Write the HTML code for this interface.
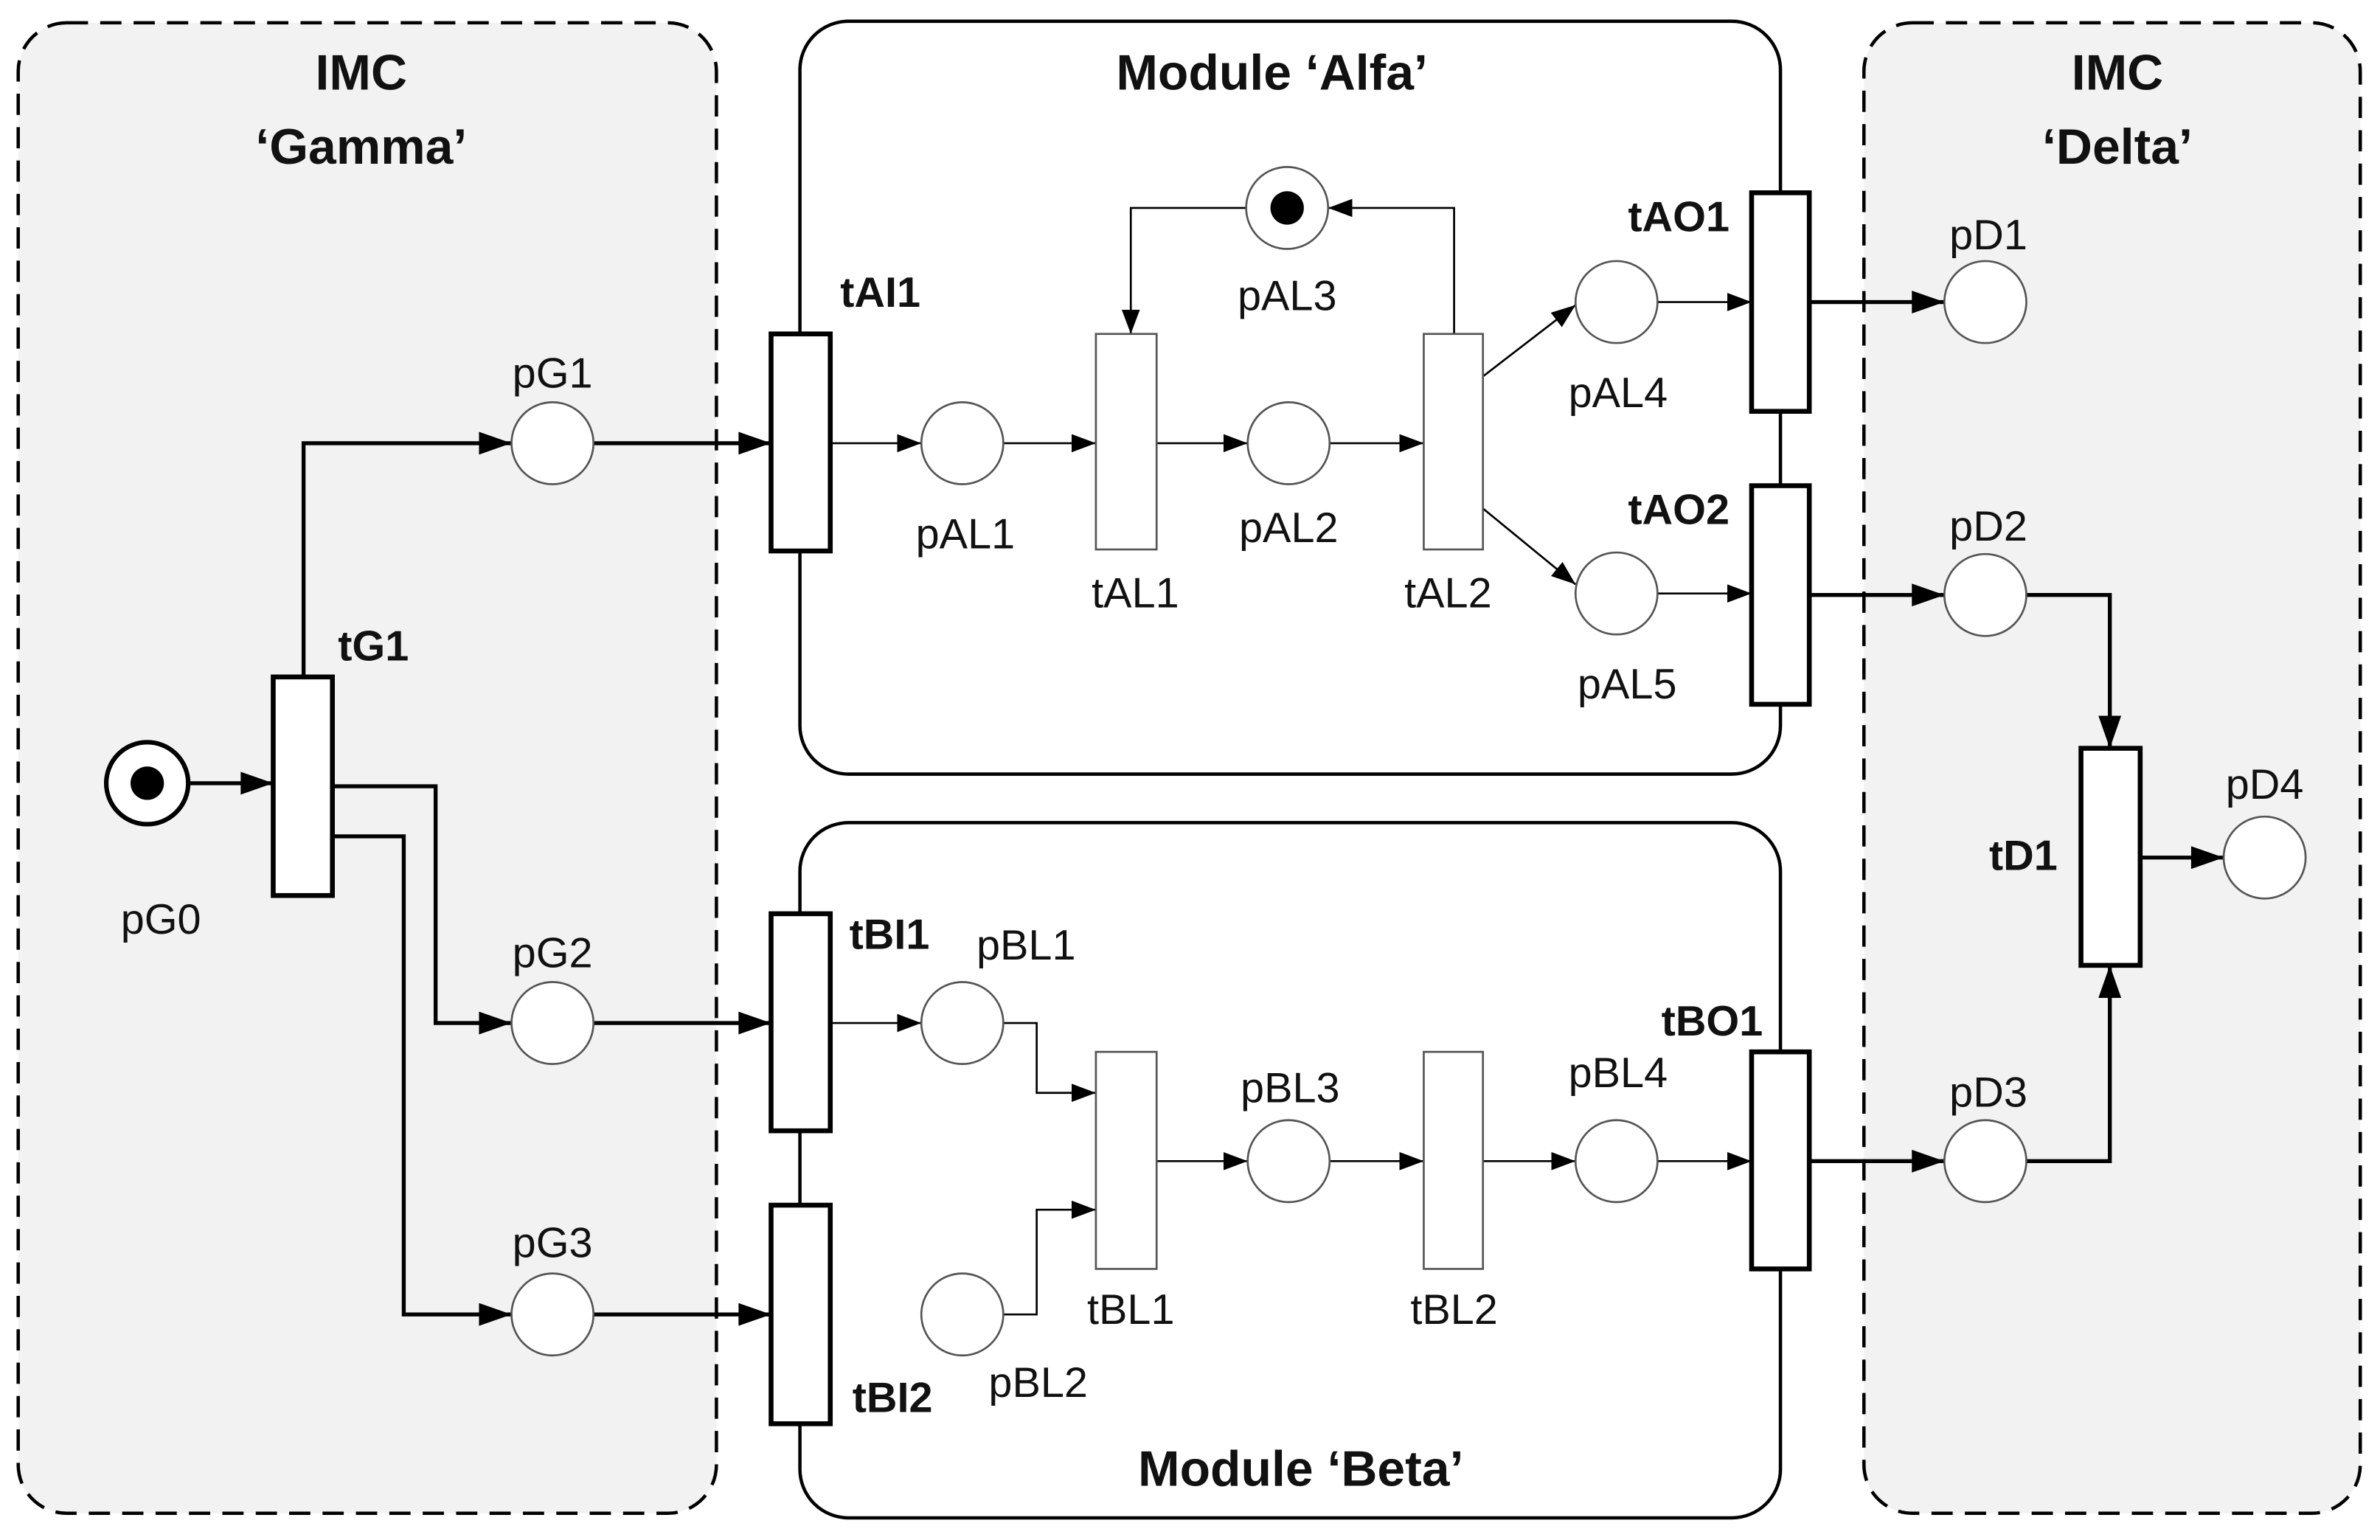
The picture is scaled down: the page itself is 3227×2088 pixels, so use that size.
<!DOCTYPE html>
<html><head><meta charset="utf-8"><style>
html,body{margin:0;padding:0;background:#fff;}
svg{display:block;}
text{font-family:"Liberation Sans",Arial,sans-serif;fill:#111;}
.l{font-size:28px;text-anchor:middle;dominant-baseline:central;}
.b{font-size:28px;font-weight:bold;text-anchor:middle;dominant-baseline:central;}
.t{font-size:33px;font-weight:bold;text-anchor:middle;dominant-baseline:central;}
.a{stroke:#000;stroke-width:2.6;fill:none;}
.th{stroke:#000;stroke-width:1.3;fill:none;}
.p{stroke:#555;stroke-width:1.3;fill:#fff;}
</style></head><body>
<svg width="3227" height="2088" viewBox="0 0 1568 1014.6" preserveAspectRatio="none" xmlns="http://www.w3.org/2000/svg">
<defs>
<marker id="A" viewBox="0 0 20 14" refX="20" refY="7" markerWidth="22" markerHeight="15" orient="auto" markerUnits="userSpaceOnUse"><path d="M0,0L20,7L0,14z" fill="#000"/></marker>
<marker id="S" viewBox="0 0 16 12" refX="16" refY="6" markerWidth="16" markerHeight="12" orient="auto" markerUnits="userSpaceOnUse"><path d="M0,0L16,6L0,12z" fill="#000"/></marker>
</defs>
<rect width="1568" height="1014.6" fill="#fff"/>
<rect x="12" y="15" width="460" height="982" rx="32" fill="#f2f2f2" stroke="#000" stroke-width="2.2" stroke-dasharray="14,8"/>
<rect x="1228" y="15" width="327" height="982" rx="32" fill="#f2f2f2" stroke="#000" stroke-width="2.2" stroke-dasharray="14,8"/>
<rect x="527" y="14" width="646" height="496" rx="32" fill="#fff" stroke="#000" stroke-width="2.2"/>
<rect x="527" y="542" width="646" height="458" rx="32" fill="#fff" stroke="#000" stroke-width="2.2"/>
<text class="t" x="238" y="48">IMC</text>
<text class="t" x="238" y="97">‘Gamma’</text>
<text class="t" x="1395" y="48">IMC</text>
<text class="t" x="1395" y="97">‘Delta’</text>
<text class="t" x="838" y="48">Module ‘Alfa’</text>
<text class="t" x="857" y="968">Module ‘Beta’</text>

<path class="a" d="M124,516H180" marker-end="url(#A)"/>
<path class="a" d="M200,446V292H337" marker-end="url(#A)"/>
<path class="a" d="M219,518H287V674H337" marker-end="url(#A)"/>
<path class="a" d="M219,551H266V866H337" marker-end="url(#A)"/>
<path class="a" d="M391,292H508" marker-end="url(#A)"/>
<path class="a" d="M391,674H508" marker-end="url(#A)"/>
<path class="a" d="M391,866H508" marker-end="url(#A)"/>
<path class="a" d="M1192,199H1281" marker-end="url(#A)"/>
<path class="a" d="M1192,392H1281" marker-end="url(#A)"/>
<path class="a" d="M1192,765H1281" marker-end="url(#A)"/>
<path class="a" d="M1335,392H1390V493" marker-end="url(#A)"/>
<path class="a" d="M1335,765H1390V636" marker-end="url(#A)"/>
<path class="a" d="M1410,565H1465" marker-end="url(#A)"/>
<path class="th" d="M547,292H607" marker-end="url(#S)"/>
<path class="th" d="M661,292H722" marker-end="url(#S)"/>
<path class="th" d="M762,292H822" marker-end="url(#S)"/>
<path class="th" d="M876,292H938" marker-end="url(#S)"/>
<path class="th" d="M958,220V137H875" marker-end="url(#S)"/>
<path class="th" d="M821,137H745V220" marker-end="url(#S)"/>
<path class="th" d="M977,248L1038,201" marker-end="url(#S)"/>
<path class="th" d="M977,335L1038,385" marker-end="url(#S)"/>
<path class="th" d="M1092,199H1154" marker-end="url(#S)"/>
<path class="th" d="M1092,391H1154" marker-end="url(#S)"/>
<path class="th" d="M547,674H607" marker-end="url(#S)"/>
<path class="th" d="M661,674H683V720H722" marker-end="url(#S)"/>
<path class="th" d="M661,866H683V797H722" marker-end="url(#S)"/>
<path class="th" d="M762,765H822" marker-end="url(#S)"/>
<path class="th" d="M876,765H938" marker-end="url(#S)"/>
<path class="th" d="M977,765H1038" marker-end="url(#S)"/>
<path class="th" d="M1092,765H1154" marker-end="url(#S)"/>

<g class="p">
<circle cx="364" cy="292" r="27"/><circle cx="364" cy="674" r="27"/><circle cx="364" cy="866" r="27"/>
<circle cx="634" cy="292" r="27"/><circle cx="849" cy="292" r="27"/><circle cx="848" cy="137" r="27"/>
<circle cx="1065" cy="199" r="27"/><circle cx="1065" cy="391" r="27"/>
<circle cx="1308" cy="199" r="27"/><circle cx="1308" cy="392" r="27"/><circle cx="1308" cy="765" r="27"/><circle cx="1492" cy="565" r="27"/>
<circle cx="634" cy="674" r="27"/><circle cx="634" cy="866" r="27"/><circle cx="849" cy="765" r="27"/><circle cx="1065" cy="765" r="27"/>
</g>
<circle cx="97" cy="516" r="27" fill="#fff" stroke="#000" stroke-width="3"/>
<circle cx="97" cy="516" r="11" fill="#000"/>
<circle cx="848" cy="137" r="11" fill="#000"/>

<g fill="#fff" stroke="#000" stroke-width="3.2">
<rect x="180" y="446" width="39" height="144"/>
<rect x="508" y="220" width="39" height="143"/>
<rect x="1154" y="127" width="38" height="144"/>
<rect x="1154" y="320" width="38" height="144"/>
<rect x="1371" y="493" width="39" height="143"/>
<rect x="508" y="602" width="39" height="143"/>
<rect x="508" y="794" width="39" height="144"/>
<rect x="1154" y="693" width="38" height="143"/>
</g>
<g fill="#fff" stroke="#555" stroke-width="1.3">
<rect x="722" y="220" width="40" height="142"/>
<rect x="938" y="220" width="39" height="142"/>
<rect x="722" y="693" width="40" height="143"/>
<rect x="938" y="693" width="39" height="143"/>
</g>

<text class="l" x="364" y="246">pG1</text>
<text class="l" x="364" y="628">pG2</text>
<text class="l" x="364" y="819">pG3</text>
<text class="l" x="106" y="606">pG0</text>
<text class="l" x="636" y="352">pAL1</text>
<text class="l" x="849" y="348">pAL2</text>
<text class="l" x="848" y="195">pAL3</text>
<text class="l" x="1066" y="259">pAL4</text>
<text class="l" x="1072" y="451">pAL5</text>
<text class="l" x="748" y="391">tAL1</text>
<text class="l" x="954" y="391">tAL2</text>
<text class="l" x="1310" y="155">pD1</text>
<text class="l" x="1310" y="347">pD2</text>
<text class="l" x="1310" y="720">pD3</text>
<text class="l" x="1492" y="517">pD4</text>
<text class="l" x="676" y="623">pBL1</text>
<text class="l" x="684" y="911">pBL2</text>
<text class="l" x="850" y="717">pBL3</text>
<text class="l" x="1066" y="707">pBL4</text>
<text class="l" x="745" y="863">tBL1</text>
<text class="l" x="958" y="863">tBL2</text>
<text class="b" x="580" y="193">tAI1</text>
<text class="b" x="246" y="426">tG1</text>
<text class="b" x="1106" y="143">tAO1</text>
<text class="b" x="1106" y="336">tAO2</text>
<text class="b" x="1333" y="564">tD1</text>
<text class="b" x="586" y="616">tBI1</text>
<text class="b" x="588" y="921">tBI2</text>
<text class="b" x="1128" y="673">tBO1</text>
</svg>
</body></html>
